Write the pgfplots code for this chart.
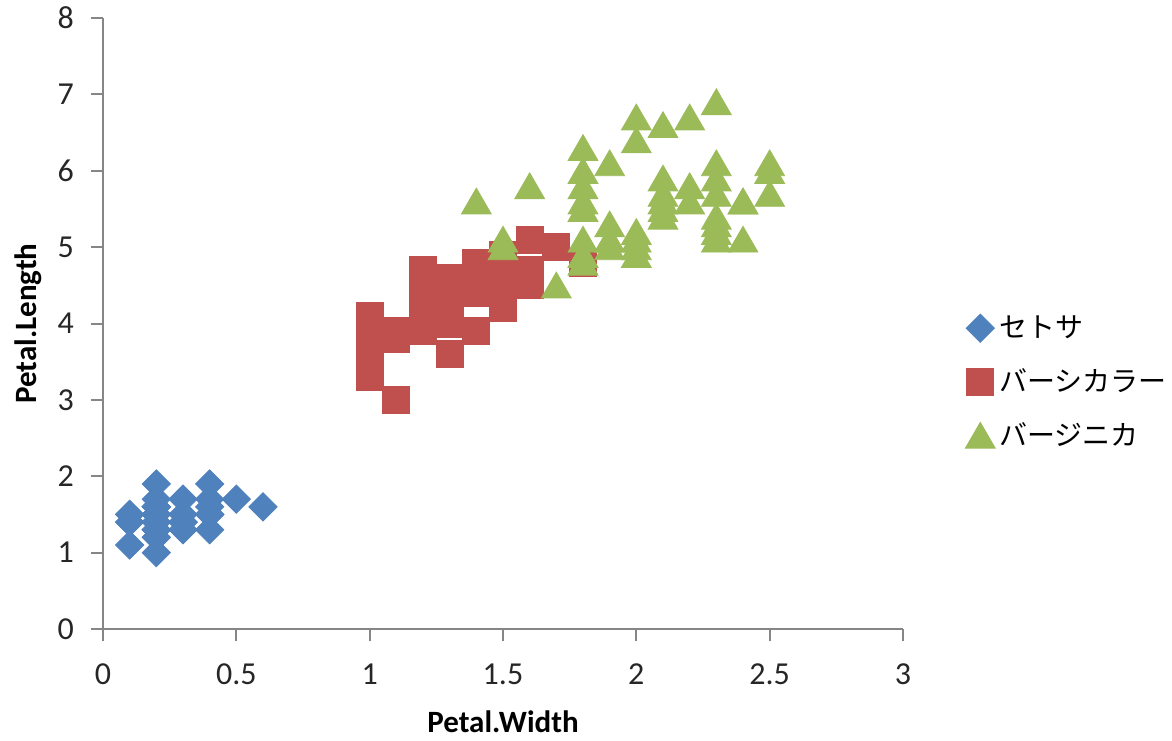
\documentclass[border=0pt]{standalone}
\usepackage{fontspec}
\setmainfont{Carlito}
\newfontfamily\cjk{Noto Sans CJK JP}
\usepackage{pgfplots}
\pgfplotsset{compat=1.18}
\definecolor{cBlue}{HTML}{4F81BD}
\definecolor{cRed}{HTML}{C0504D}
\definecolor{cGreen}{HTML}{9BBB59}
\definecolor{cAxis}{HTML}{868686}
\begin{document}
\begin{tikzpicture}
\useasboundingbox (-51.5pt,-55.5pt) rectangle (534.5pt,314.5pt);
\begin{axis}[
  name=main,
  at={(0,0)}, anchor=south west,
  scale only axis,
  width=400pt, height=305.5pt,
  xmin=0, xmax=3, ymin=0, ymax=8,
  xtick={0,0.5,1,1.5,2,2.5,3},
  ytick={0,1,2,3,4,5,6,7,8},
  axis lines=left,
  axis line style={-, cAxis, line width=1pt},
  tick style={cAxis, line width=1pt},
  tick align=outside,
  major tick length=6pt,
  /pgf/number format/assume math mode=true,
  ticklabel style={font=\fontsize{16}{19}\selectfont, text=black!85},
  x tick label style={yshift=-8pt},
  y tick label style={xshift=-5pt},
  xlabel={\textbf{Petal.Width}},
  ylabel={\textbf{Petal.Length}},
  label style={font=\fontsize{15.5}{18}\selectfont},
  xlabel style={at={(axis description cs:0.5,-0.152)}, anchor=center},
  ylabel style={at={(axis description cs:-0.094,0.5)}, anchor=center, rotate=0},
  legend style={draw=none, fill=none, at={(1.07,0.404)}, anchor=west,
    font=\cjk\fontsize{14}{16}\selectfont, row sep=10pt,
    /tikz/every even column/.append style={column sep=2pt}},
  legend cell align=left,
  clip=false,
]
\addplot[only marks, mark=square*, mark size=5pt, mark options={rotate=45, fill=cBlue, draw=cBlue}] table {
x y
0.2 1.4
0.2 1.4
0.2 1.3
0.2 1.5
0.2 1.4
0.4 1.7
0.3 1.4
0.2 1.5
0.2 1.4
0.1 1.5
0.2 1.5
0.2 1.6
0.1 1.4
0.1 1.1
0.2 1.2
0.4 1.5
0.4 1.3
0.3 1.4
0.3 1.7
0.3 1.5
0.2 1.7
0.4 1.5
0.2 1.0
0.5 1.7
0.2 1.9
0.2 1.6
0.4 1.6
0.2 1.5
0.2 1.4
0.2 1.6
0.2 1.6
0.4 1.5
0.1 1.5
0.2 1.4
0.2 1.5
0.2 1.2
0.2 1.3
0.1 1.4
0.2 1.3
0.2 1.5
0.3 1.3
0.3 1.3
0.2 1.3
0.6 1.6
0.4 1.9
0.3 1.4
0.2 1.6
0.2 1.4
0.2 1.5
0.2 1.4
};
\addlegendentry{セトサ}
\addplot[only marks, mark=square*, mark size=6.75pt, mark options={fill=cRed, draw=cRed}] table {
x y
1.4 4.7
1.5 4.5
1.5 4.9
1.3 4.0
1.5 4.6
1.3 4.5
1.6 4.7
1.0 3.3
1.3 4.6
1.4 3.9
1.0 3.5
1.5 4.2
1.0 4.0
1.4 4.7
1.3 3.6
1.4 4.4
1.5 4.5
1.0 4.1
1.5 4.5
1.1 3.9
1.8 4.8
1.3 4.0
1.5 4.9
1.2 4.7
1.3 4.3
1.4 4.4
1.4 4.8
1.7 5.0
1.5 4.5
1.0 3.5
1.1 3.8
1.0 3.7
1.2 3.9
1.6 5.1
1.5 4.5
1.6 4.5
1.5 4.7
1.3 4.4
1.3 4.1
1.3 4.0
1.2 4.4
1.4 4.6
1.2 4.0
1.0 3.3
1.3 4.2
1.2 4.2
1.3 4.2
1.3 4.3
1.1 3.0
1.3 4.1
};
\addlegendentry{バーシカラー}
\addplot[only marks, mark=triangle*, mark size=8.6pt, mark options={fill=cGreen, draw=cGreen, yshift=-2pt}] table {
x y
2.5 6.0
1.9 5.1
2.1 5.9
1.8 5.6
2.2 5.8
2.1 6.6
1.7 4.5
1.8 6.3
1.8 5.8
2.5 6.1
2.0 5.1
1.9 5.3
2.1 5.5
2.0 5.0
2.4 5.1
2.3 5.3
1.8 5.5
2.2 6.7
2.3 6.9
1.5 5.0
2.3 5.7
2.0 4.9
2.0 6.7
1.8 4.9
2.1 5.7
1.8 6.0
1.8 4.8
1.8 4.9
2.1 5.6
1.6 5.8
1.9 6.1
2.0 6.4
2.2 5.6
1.5 5.1
1.4 5.6
2.3 6.1
2.4 5.6
1.8 5.5
1.8 4.8
2.1 5.4
2.4 5.6
2.3 5.1
1.9 5.1
2.3 5.9
2.5 5.7
2.3 5.2
1.9 5.0
2.0 5.2
2.3 5.4
1.8 5.1
};
\addlegendentry{バージニカ}
\end{axis}
\end{tikzpicture}
\end{document}
